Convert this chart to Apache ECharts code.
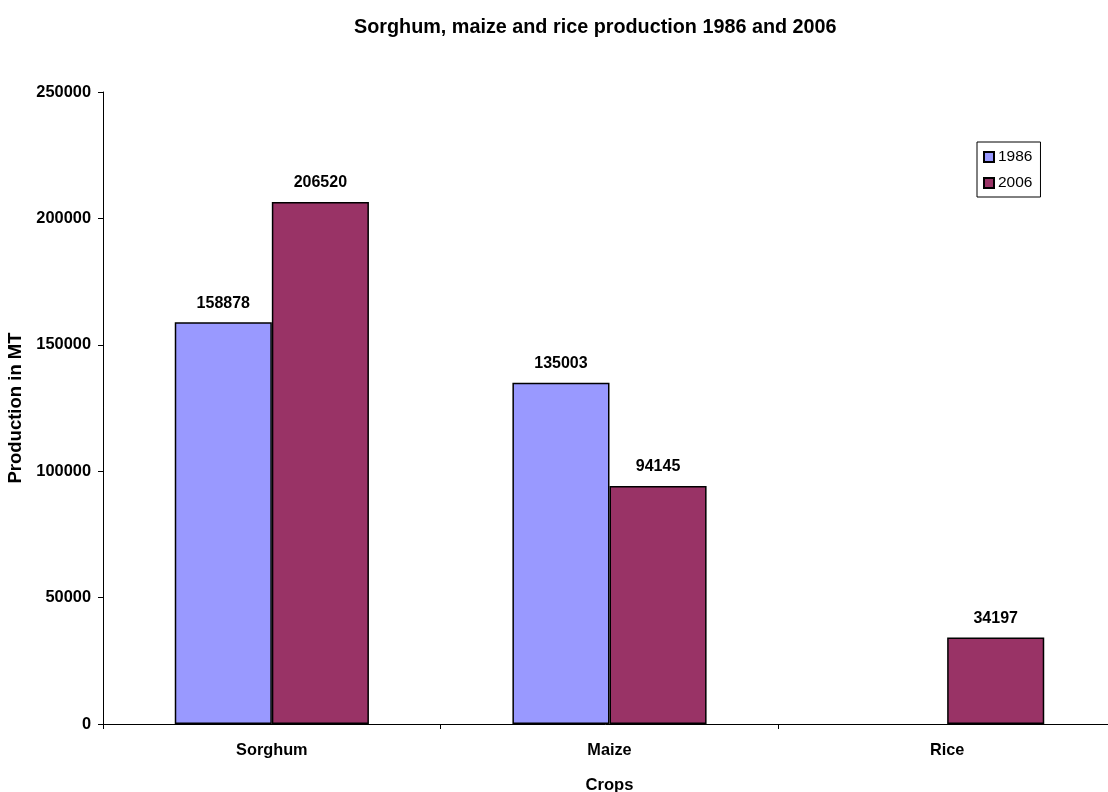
<!DOCTYPE html>
<html><head><meta charset="utf-8">
<script src="https://cdn.jsdelivr.net/npm/echarts@6/dist/echarts.min.js"></script>
<style>html,body{margin:0;padding:0;background:#fff}#c{width:1108px;height:792px}</style>
</head><body><div id="c"></div>
<script>
const categories = ['Sorghum', 'Maize', 'Rice'];
const series1986 = [158878, 135003, null];
const series2006 = [206520, 94145, 34197];
const yTicks = [0, 50000, 100000, 150000, 200000, 250000];

const chart = echarts.init(document.getElementById('c'));
const font = '"Liberation Sans", Arial, sans-serif';
const lbl = {show: true, position: 'top', distance: 11, fontFamily: font, fontWeight: 'bold', fontSize: 16, color: '#000'};
chart.setOption({
  animation: false,
  title: {text: 'Sorghum, maize and rice production 1986 and 2006', left: 349, top: 13,
    textStyle: {fontFamily: font, fontWeight: 'bold', fontSize: 19.8, color: '#000'}},
  legend: {orient: 'vertical', left: 977, top: 142, itemWidth: 10, itemHeight: 10, itemGap: 10,
    padding: [7, 8, 6, 6], borderColor: '#000', borderWidth: 1, icon: 'rect',
    textStyle: {fontFamily: font, fontSize: 15.5, lineHeight: 16, color: '#000', padding: [0,0,0,-1]},
    data: ['1986', '2006']},
  grid: {left: 103, width: 1013, top: 92, bottom: 68, containLabel: false, outerBoundsMode: 'none'},
  xAxis: {type: 'category', data: categories,
    name: 'Crops', nameLocation: 'middle', nameGap: 53,
    nameTextStyle: {fontFamily: font, fontWeight: 'bold', fontSize: 16.6, color: '#000'},
    axisLine: {lineStyle: {color: '#000', width: 1}},
    axisTick: {show: true, length: 5, lineStyle: {color: '#000'}},
    axisLabel: {fontFamily: font, fontWeight: 'bold', fontSize: 16.3, color: '#000', margin: 19}},
  yAxis: {type: 'value', min: yTicks[0], max: yTicks[yTicks.length-1], interval: 50000,
    name: 'Production in MT', nameLocation: 'middle', nameGap: 75, nameRotate: 90,
    nameTextStyle: {fontFamily: font, fontWeight: 'bold', fontSize: 18.5, color: '#000'},
    axisLine: {show: true, lineStyle: {color: '#000', width: 1}},
    axisTick: {show: true, length: 5, lineStyle: {color: '#000'}},
    splitLine: {show: false},
    axisLabel: {fontFamily: font, fontWeight: 'bold', fontSize: 16.4, color: '#000', margin: 12,
      formatter: v => String(v)}},
  series: [
    {name: '1986', type: 'bar', data: series1986, barGap: '0%', barCategoryGap: '42.5%',
      itemStyle: {color: '#9999FF', borderColor: '#000', borderWidth: 1.5}, label: lbl},
    {name: '2006', type: 'bar', data: series2006,
      itemStyle: {color: '#993366', borderColor: '#000', borderWidth: 1.5}, label: lbl}
  ]
});
</script></body></html>
